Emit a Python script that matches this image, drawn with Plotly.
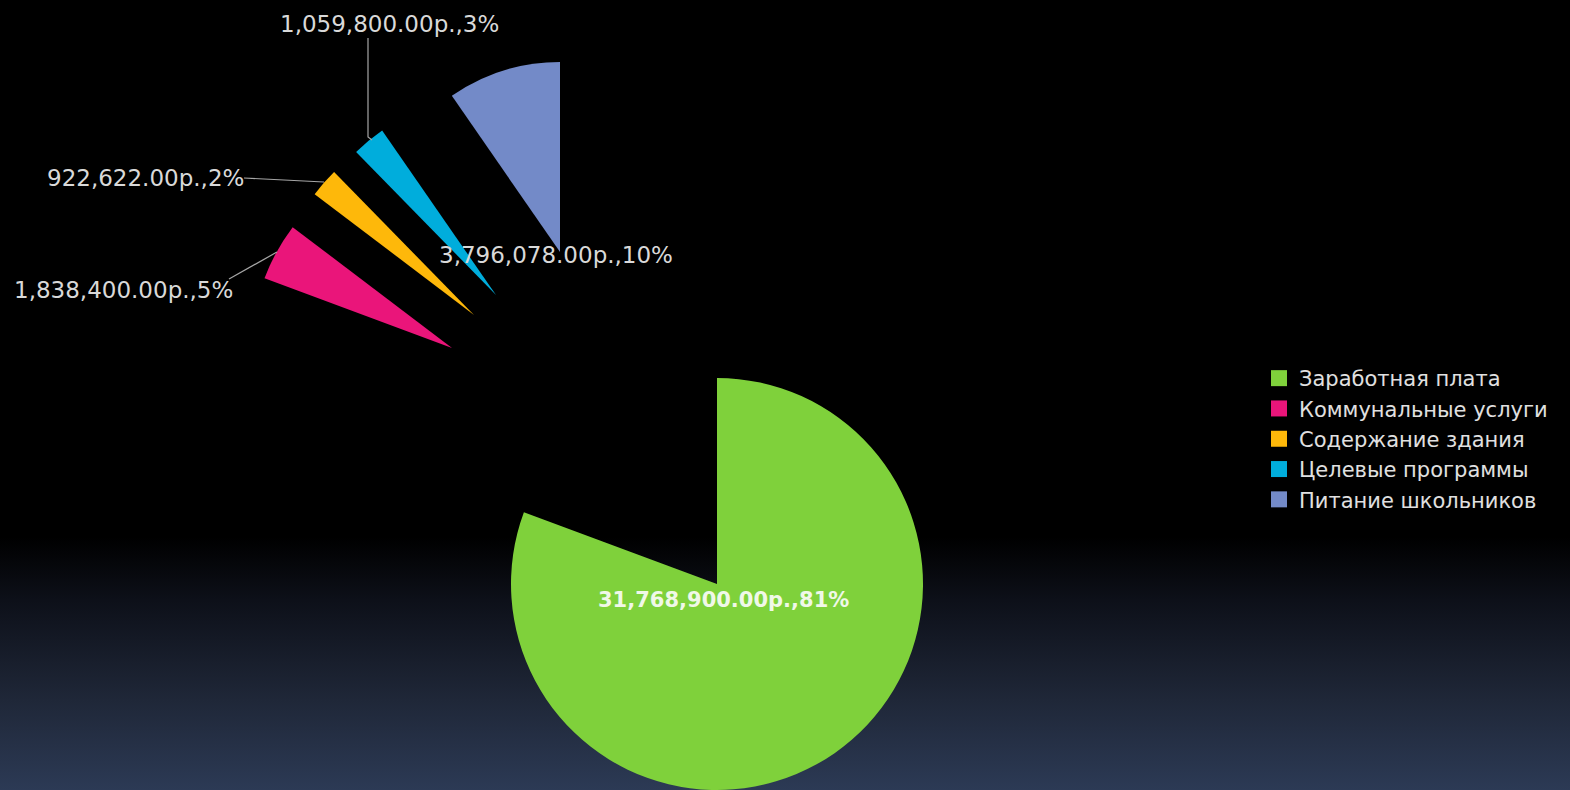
import base64
import plotly.graph_objects as go

# ---------------- data ----------------
categories = ["Заработная плата", "Коммунальные услуги", "Содержание здания",
              "Целевые программы", "Питание школьников"]
values = [31768900, 1838400, 922622, 1059800, 3796078]
colors = ["#7FD13B", "#EA157A", "#FEB80A", "#00ADDC", "#738AC8"]
currency = "р."

# ---------------- layout styling (pixels) ----------------
W, H = 1570, 790
slice_centers = [(717, 584), (452, 348), (474, 315), (496, 295), (560, 252)]
slice_radii = [206, 200, 200, 200, 190]
label_pos = [(723, 600), (123, 290), (145, 178), (389, 24), (556, 255)]
label_font_size = [21, 23, 23, 23, 23]
label_bold = [True, False, False, False, False]
leader_paths = [None,
                [(229, 279), (277, 252)],
                [(244, 178), (324, 182)],
                [(368, 38), (368, 137), (372, 140)],
                None]

FONT = "DejaVu Sans"


def fx(x):
    return x / W


def fy(y):
    return 1 - y / H


total = sum(values)
label_texts = [f"{v:,.2f}{currency},{round(v / total * 100):d}%" for v in values]

fig = go.Figure()

# one pie per exploded slice: same values, only one slice coloured
for i, (cx, cy) in enumerate(slice_centers):
    r = slice_radii[i]
    mcolors = [c if j == i else "rgba(0,0,0,0)" for j, c in enumerate(colors)]
    fig.add_trace(go.Pie(
        labels=categories,
        values=values,
        sort=False,
        direction="clockwise",
        rotation=0,
        marker=dict(colors=mcolors, line=dict(width=0)),
        textinfo="none",
        hoverinfo="skip",
        showlegend=False,
        domain=dict(x=[max(0, fx(cx - r)), min(1, fx(cx + r))],
                    y=[max(0, fy(cy + r)), min(1, fy(cy - r))]),
    ))

# legend entries
for cat, col in zip(categories, colors):
    fig.add_trace(go.Scatter(
        x=[None], y=[None], mode="markers", name=cat,
        marker=dict(symbol="square", size=16, color=col),
        showlegend=True, hoverinfo="skip",
    ))

annotations = []
for i, txt in enumerate(label_texts):
    x, y = label_pos[i]
    annotations.append(dict(
        x=fx(x), y=fy(y), xref="paper", yref="paper",
        text=f"<b>{txt}</b>" if label_bold[i] else txt,
        showarrow=False, xanchor="center", yanchor="middle",
        font=dict(family=FONT, size=label_font_size[i],
                  color="#F0F8E8" if label_bold[i] else "#D9D9D9"),
    ))

shapes = []
for pts in leader_paths:
    if not pts:
        continue
    path = "M " + " L ".join(f"{fx(x)},{fy(y)}" for x, y in pts)
    shapes.append(dict(type="path", path=path, xref="paper", yref="paper",
                       line=dict(color="#A6A6A6", width=1.2)))

svg = (
    f'<svg xmlns="http://www.w3.org/2000/svg" width="{W}" height="{H}" '
    f'viewBox="0 0 {W} {H}" preserveAspectRatio="none">'
    '<defs><linearGradient id="g" x1="0" y1="0" x2="0" y2="1">'
    '<stop offset="0" stop-color="#000000"/>'
    '<stop offset="0.68" stop-color="#000000"/>'
    '<stop offset="0.76" stop-color="#0d1019"/>'
    '<stop offset="0.886" stop-color="#1f2738"/>'
    '<stop offset="1" stop-color="#2c3a55"/>'
    '</linearGradient></defs>'
    f'<rect x="0" y="0" width="{W}" height="{H}" fill="url(#g)"/></svg>'
)
src = "data:image/svg+xml;base64," + base64.b64encode(svg.encode()).decode()

fig.update_layout(
    width=W, height=H,
    margin=dict(l=0, r=0, t=0, b=0, autoexpand=False),
    paper_bgcolor="#000000",
    plot_bgcolor="rgba(0,0,0,0)",
    xaxis=dict(visible=False),
    yaxis=dict(visible=False),
    showlegend=True,
    legend=dict(x=fx(1259), y=fy(358), xanchor="left", yanchor="top",
                bgcolor="rgba(0,0,0,0)",
                font=dict(family=FONT, size=21, color="#E0E0E0"),
                itemclick=False, itemdoubleclick=False),
    annotations=annotations,
    shapes=shapes,
    images=[dict(source=src, xref="paper", yref="paper", x=0, y=1,
                 sizex=1, sizey=1, sizing="stretch", layer="below",
                 xanchor="left", yanchor="top")],
)

fig.write_html(
    "out.html",
    config={"displayModeBar": False},
    post_script="document.body.style.margin='0';"
                "document.body.style.background='#000';"
                "document.body.style.overflow='hidden';",
)
